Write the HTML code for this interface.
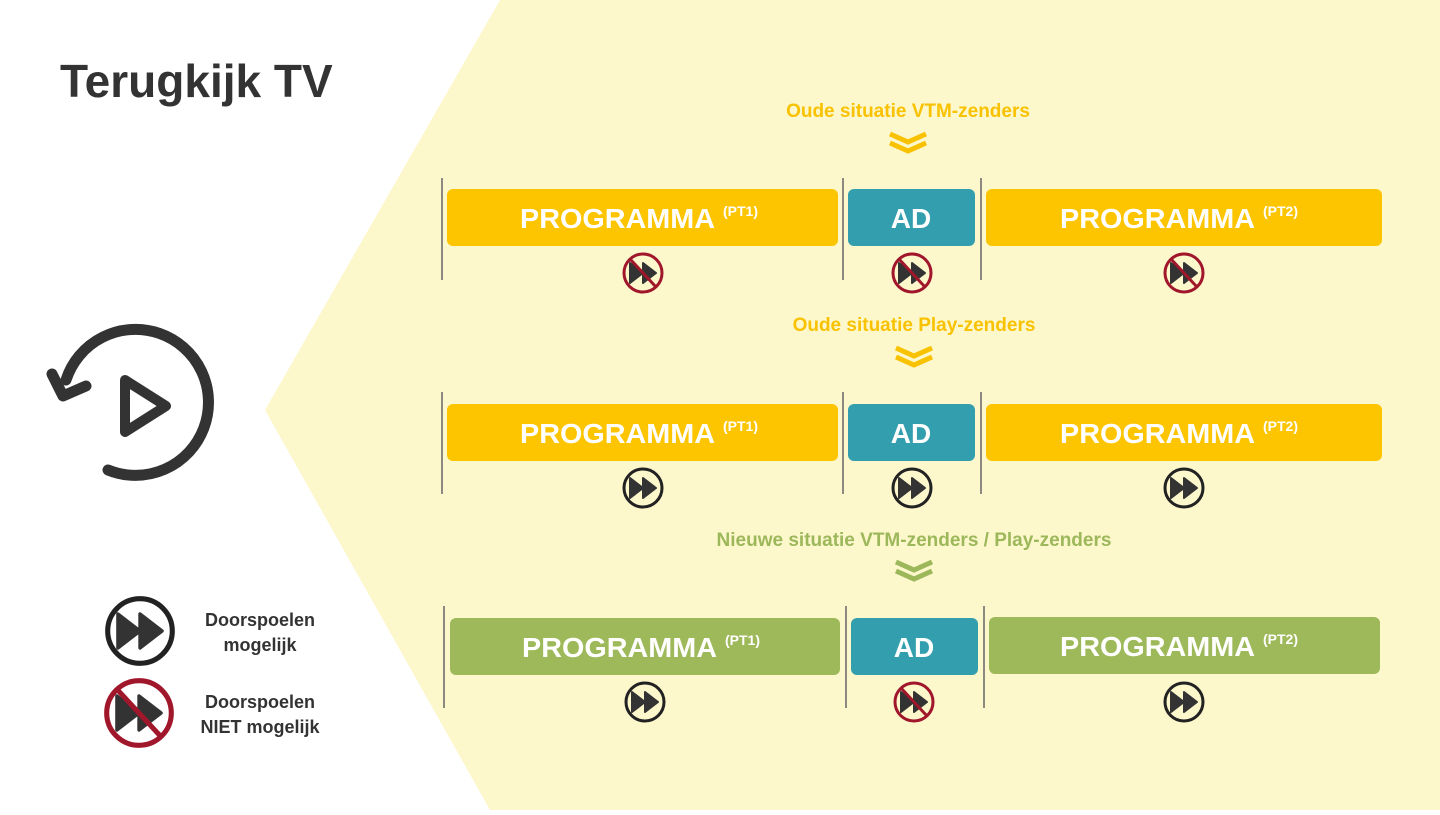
<!DOCTYPE html>
<html><head><meta charset="utf-8"><style>
html,body{margin:0;padding:0;background:#fff}
svg text{font-family:"Liberation Sans",sans-serif;font-weight:bold}
</style></head><body>
<svg width="1440" height="810" viewBox="0 0 1440 810" xmlns="http://www.w3.org/2000/svg">
<defs>
<g id="ff"><circle r="19" fill="none" stroke="#222" stroke-width="3"/><path d="M-13,-10 L0,0 L-13,10Z M0,-10 L13,0 L0,10Z" fill="#333" stroke="#333" stroke-width="2" stroke-linejoin="round"/></g>
<g id="nf"><path d="M-13,-10 L0,0 L-13,10Z M0,-10 L13,0 L0,10Z" fill="#333" stroke="#333" stroke-width="2" stroke-linejoin="round"/><circle r="19" fill="none" stroke="#a0162a" stroke-width="3"/><line x1="-13" y1="-14" x2="13" y2="14" stroke="#a0162a" stroke-width="3"/></g>
<g id="chev" fill="none" stroke-width="5"><path d="M-18,-9 L0,-1 L18,-9"/><path d="M-18,0 L0,8 L18,0"/></g>
</defs>
<polygon points="500,0 1440,0 1440,810 490,810 265,410" fill="#fdf7cc"/>
<text x="60" y="97" font-size="46" fill="#333">Terugkijk TV</text>
<g fill="none" stroke="#333" stroke-width="11" stroke-linecap="round" stroke-linejoin="round">
<path d="M108,470 A73,73 0 1 0 66,380"/>
<path d="M52,374 L63,396 L86,386"/>
<path d="M125,380 L166,406 L125,432Z" stroke-width="10"/>
</g>
<g transform="translate(140,631) scale(1.7)"><use href="#ff"/></g>
<text x="260" y="626" font-size="18" fill="#333" text-anchor="middle">Doorspoelen</text>
<text x="260" y="651" font-size="18" fill="#333" text-anchor="middle">mogelijk</text>
<g transform="translate(139,713) scale(1.7)"><use href="#nf"/></g>
<text x="260" y="708" font-size="18" fill="#333" text-anchor="middle">Doorspoelen</text>
<text x="260" y="733" font-size="18" fill="#333" text-anchor="middle">NIET mogelijk</text>

<text x="908" y="117" font-size="19" fill="#f9c200" text-anchor="middle">Oude situatie VTM-zenders</text>
<g transform="translate(908,143)" stroke="#f9c200"><use href="#chev"/></g>
<text x="914" y="331" font-size="19" fill="#f9c200" text-anchor="middle">Oude situatie Play-zenders</text>
<g transform="translate(914,357)" stroke="#f9c200"><use href="#chev"/></g>
<text x="914" y="546" font-size="19" fill="#9cb85a" text-anchor="middle">Nieuwe situatie VTM-zenders / Play-zenders</text>
<g transform="translate(914,571)" stroke="#9cb85a"><use href="#chev"/></g>

<g stroke="#666" stroke-width="1.5">
<line x1="442" y1="178" x2="442" y2="280"/><line x1="843" y1="178" x2="843" y2="280"/><line x1="981" y1="178" x2="981" y2="280"/>
<line x1="442" y1="392" x2="442" y2="494"/><line x1="843" y1="392" x2="843" y2="494"/><line x1="981" y1="392" x2="981" y2="494"/>
<line x1="444" y1="606" x2="444" y2="708"/><line x1="846" y1="606" x2="846" y2="708"/><line x1="984" y1="606" x2="984" y2="708"/>
</g>

<rect x="447" y="189" width="391" height="57" rx="6" fill="#fdc400"/>
<rect x="848" y="189" width="127" height="57" rx="6" fill="#339fae"/>
<rect x="986" y="189" width="396" height="57" rx="6" fill="#fdc400"/>
<rect x="447" y="404" width="391" height="57" rx="6" fill="#fdc400"/>
<rect x="848" y="404" width="127" height="57" rx="6" fill="#339fae"/>
<rect x="986" y="404" width="396" height="57" rx="6" fill="#fdc400"/>
<rect x="450" y="618" width="390" height="57" rx="6" fill="#9eb95a"/>
<rect x="851" y="618" width="127" height="57" rx="6" fill="#339fae"/>
<rect x="989" y="617" width="391" height="57" rx="6" fill="#9eb95a"/>

<g fill="#fff">
<text x="520" y="228" font-size="28" textLength="195" lengthAdjust="spacingAndGlyphs">PROGRAMMA</text><text x="723" y="216" font-size="14">(PT1)</text>
<text x="911" y="228" font-size="28" text-anchor="middle">AD</text>
<text x="1060" y="228" font-size="28" textLength="195" lengthAdjust="spacingAndGlyphs">PROGRAMMA</text><text x="1263" y="216" font-size="14">(PT2)</text>
<text x="520" y="443" font-size="28" textLength="195" lengthAdjust="spacingAndGlyphs">PROGRAMMA</text><text x="723" y="431" font-size="14">(PT1)</text>
<text x="911" y="443" font-size="28" text-anchor="middle">AD</text>
<text x="1060" y="443" font-size="28" textLength="195" lengthAdjust="spacingAndGlyphs">PROGRAMMA</text><text x="1263" y="431" font-size="14">(PT2)</text>
<text x="522" y="657" font-size="28" textLength="195" lengthAdjust="spacingAndGlyphs">PROGRAMMA</text><text x="725" y="645" font-size="14">(PT1)</text>
<text x="914" y="657" font-size="28" text-anchor="middle">AD</text>
<text x="1060" y="656" font-size="28" textLength="195" lengthAdjust="spacingAndGlyphs">PROGRAMMA</text><text x="1263" y="644" font-size="14">(PT2)</text>
</g>
<use href="#nf" x="643" y="273"/><use href="#nf" x="912" y="273"/><use href="#nf" x="1184" y="273"/>
<use href="#ff" x="643" y="488"/><use href="#ff" x="912" y="488"/><use href="#ff" x="1184" y="488"/>
<use href="#ff" x="645" y="702"/><use href="#nf" x="914" y="702"/><use href="#ff" x="1184" y="702"/>
</svg>
</body></html>
